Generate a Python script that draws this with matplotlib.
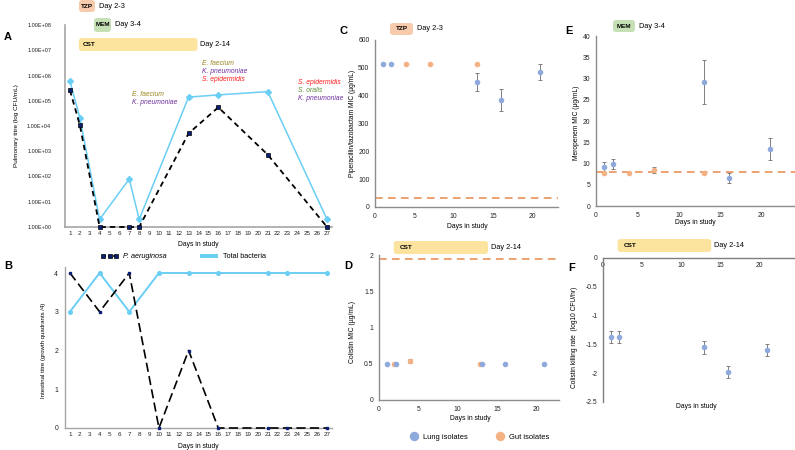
import matplotlib
matplotlib.use("Agg")
import matplotlib.pyplot as plt
import matplotlib.transforms as mtrans
from matplotlib.patches import FancyBboxPatch, Patch
from matplotlib.lines import Line2D
from matplotlib.ticker import FixedLocator, FuncFormatter, NullLocator
import numpy as np

plt.rcParams['font.family'] = ['Liberation Sans', 'DejaVu Sans']

# ---------------- data ----------------
study_days = list(range(1, 28))

# Panel A: pulmonary titre (CFU/mL)
pulm_pa_days = [1, 2, 4, 7, 8, 13, 16, 21, 27]
pulm_pa_titre = [2.6e5, 1.1e4, 1, 1, 1, 5.1e3, 5.5e4, 7.3e2, 1]
pulm_tot_days = [1, 2, 4, 7, 8, 13, 16, 21, 27]
pulm_tot_titre = [6.0e5, 2.1e4, 2, 80, 2, 1.4e5, 1.7e5, 2.3e5, 2]
pulm_yticks = [1e0, 1e1, 1e2, 1e3, 1e4, 1e5, 1e6, 1e7, 1e8]

# Panel B: intestinal titre (growth quadrants /4)
gut_pa_days = [1, 4, 7, 10, 13, 16, 21, 23, 27]
gut_pa_quad = [4, 3, 4, 0, 2, 0, 0, 0, 0]
gut_tot_days = [1, 4, 7, 10, 13, 16, 21, 23, 27]
gut_tot_quad = [3, 4, 3, 4, 4, 4, 4, 4, 4]
gut_yticks = [0, 1, 2, 3, 4]

# Species annotations (panel A)
species_g1 = ["E. faecium", "K. pneumoniae"]
species_g2 = ["E. faecium", "K. pneumoniae", "S. epidermidis"]
species_g3 = ["S. epidermidis", "S. oralis", "K. pneumoniae"]

# Panel C: piperacillin/tazobactam MIC
tzp_lung_days = [1, 2, 13, 16, 21]
tzp_lung_mic = [512, 512, 448, 384, 485]
tzp_lung_err = [0, 0, 33, 39, 28]
tzp_gut_days = [4, 7, 13]
tzp_gut_mic = [512, 512, 512]
tzp_breakpoint = 32
tzp_yticks = [0, 100, 200, 300, 400, 500, 600]

# Panel D: colistin MIC
cst_lung_days = [1, 2.1, 13.1, 16, 21]
cst_lung_mic = [0.5, 0.5, 0.5, 0.5, 0.5]
cst_gut_days = [1.9, 4, 12.9]
cst_gut_mic = [0.5, 0.54, 0.5]
cst_gut_err = [0, 0.03, 0]
cst_breakpoint = 1.95
cst_yticks = [0, 0.5, 1, 1.5, 2]

# Panel E: meropenem MIC
mem_lung_days = [1, 2, 13, 16, 21]
mem_lung_mic = [9.2, 9.9, 29.2, 6.6, 13.4]
mem_lung_err = [1.1, 1.1, 5.2, 1.2, 2.5]
mem_gut_days = [1, 4, 7, 13]
mem_gut_mic = [7.8, 7.8, 8.5, 7.8]
mem_gut_err = [0, 0, 0.7, 0]
mem_breakpoint = 8
mem_yticks = [0, 5, 10, 15, 20, 25, 30, 35, 40]

# Panel F: colistin killing rate
kill_days = [1, 2, 13, 16, 21]
kill_rate = [-1.37, -1.37, -1.55, -1.98, -1.60]
kill_err = [0.10, 0.11, 0.11, 0.11, 0.10]
kill_yticks = [-2.5, -2, -1.5, -1, -0.5, 0]

mic_xticks = [0, 5, 10, 15, 20]
cst_window = (2, 14)

# ---------------- style ----------------
W, H, DPI = 795, 450, 100
LUNG = '#8EA9DB'
GUT = '#F4B183'
LBLUE = '#6ACEF5'
NAVY = '#0B1F75'
OLIVE = '#9A8520'
PURPLE = '#7030A0'
RED = '#FF1A1A'
GREEN = '#5E8F3A'
SPINE_A = '#A6A6A6'
SPINE_C = '#8C8C8C'
TZP_C = '#F8CBAD'
MEM_C = '#C5E0B4'
CST_C = '#FCE49E'
ERR_C = '#7F7F7F'

fig = plt.figure(figsize=(W / DPI, H / DPI), dpi=DPI)


def add_ax(left, top, right, bottom):
    return fig.add_axes([left / W, 1 - bottom / H, (right - left) / W, (bottom - top) / H])


def px_text(x, y, s, **kw):
    fig.text(x / W, 1 - y / H, s, **kw)


def px_box(x0, y0, x1, y1, fc, r=3):
    p = FancyBboxPatch((x0, H - y1), x1 - x0, y1 - y0,
                       boxstyle=f"round,pad=0,rounding_size={r}",
                       fc=fc, ec='none', transform=mtrans.IdentityTransform())
    fig.add_artist(p)


def style_mic(ax, color=SPINE_C):
    for s in ['top', 'right']:
        ax.spines[s].set_visible(False)
    for s in ['left', 'bottom']:
        ax.spines[s].set_color(color)
        ax.spines[s].set_linewidth(1.0)
    ax.tick_params(length=0, labelsize=4.9, colors='#222222', pad=4)
    ax.set_facecolor('none')


def cst_bar(ax, y0, y1, label_dx=5):
    x0 = ax.transData.transform((cst_window[0], 0))[0]
    x1 = ax.transData.transform((cst_window[1], 0))[0]
    px_box(x0 - 1, y0, x1 - 1, y1, CST_C, r=3)
    px_text(x0 + label_dx - 1, (y0 + y1) / 2, 'CST', fontsize=4.6, fontweight='bold',
            ha='left', va='center')
    px_text(x1 + 2, (y0 + y1) / 2, 'Day 2-14', fontsize=5.3, ha='left', va='center')


def label_box(x0, y0, x1, y1, fc, name, day_text):
    px_box(x0, y0, x1, y1, fc, r=3)
    px_text((x0 + x1) / 2, (y0 + y1) / 2, name, fontsize=4.6, fontweight='bold',
            ha='center', va='center')
    px_text(x1 + 4, (y0 + y1) / 2, day_text, fontsize=5.3, ha='left', va='center')


# ---------------- Panel A ----------------
axA = add_ax(65, 25, 332, 227)
axA.set_yscale('log')
axA.set_ylim(1, 1e8)
axA.set_xlim(0.5, 27.5)
axA.plot(pulm_tot_days, pulm_tot_titre, color=LBLUE, lw=1.1, marker='D', ms=3.0,
         mfc=LBLUE, mec=LBLUE, clip_on=False, zorder=3)
axA.plot(pulm_pa_days, pulm_pa_titre, color='black', lw=1.3, ls=(0, (3, 2.2)), marker='s',
         ms=3.2, mfc=NAVY, mec='black', mew=0.5, clip_on=False, zorder=4)
axA.yaxis.set_major_locator(FixedLocator(pulm_yticks))
axA.yaxis.set_minor_locator(NullLocator())
axA.yaxis.set_major_formatter(FuncFormatter(lambda v, p: f"{v:.2E}"))
axA.xaxis.set_major_locator(FixedLocator(study_days))
for s in ['top', 'right']:
    axA.spines[s].set_visible(False)
for s in ['left', 'bottom']:
    axA.spines[s].set_color(SPINE_A)
    axA.spines[s].set_linewidth(1.2)
axA.tick_params(axis='y', length=0, labelsize=4.0, pad=10, colors='#222222')
axA.tick_params(axis='x', length=0, labelsize=4.5, pad=3, colors='#222222')
axA.set_facecolor('none')

px_text(8, 37, 'A', fontsize=8, fontweight='bold', ha='center', va='center')
px_text(17, 126, 'Pulmonary titre (log CFU/mL)', fontsize=4.6, rotation=90,
        ha='center', va='center')
px_text(198, 244, 'Days in study', fontsize=4.9, ha='center', va='center')

label_box(79, 0, 95, 12, TZP_C, 'TZP', 'Day 2-3')
label_box(94, 18, 111, 32, MEM_C, 'MEM', 'Day 3-4')
cst_bar(axA, 38, 51, label_dx=4)

sp_colors = {"E. faecium": OLIVE, "K. pneumoniae": PURPLE,
             "S. epidermidis": RED, "S. oralis": GREEN}
for group, (gx, gy) in zip([species_g1, species_g2, species_g3],
                           [(132, 94), (202, 63.5), (298, 82)]):
    for i, name in enumerate(group):
        px_text(gx, gy + i * 8.2, name, fontsize=4.9, style='italic',
                color=sp_colors[name], ha='left', va='center')

# legend between A and B
hPA = Line2D([], [], color='black', lw=1.3, ls=(0, (1.6, 1.2)), marker='s', ms=3.2,
             mfc=NAVY, mec='black', mew=0.5)
hTot = Patch(fc=LBLUE, ec='none')
leg = fig.legend([hPA, hTot], ['P. aeruginosa', 'Total bacteria'], loc='center left',
                 bbox_to_anchor=(101 / W, 1 - 257 / H), ncol=2, frameon=False,
                 fontsize=5.2, handlelength=2.4, handletextpad=0.7, columnspacing=4.6,
                 numpoints=3, borderpad=0, borderaxespad=0, handleheight=0.6)
leg.get_texts()[0].set_fontstyle('italic')

# ---------------- Panel B ----------------
axB = add_ax(65, 428 - 4.15 * 38.75, 332, 428)
axB.set_ylim(0, 4.15)
axB.set_xlim(0.5, 27.5)
axB.plot(gut_tot_days, gut_tot_quad, color=LBLUE, lw=1.4, marker='o', ms=2.6,
         mfc=LBLUE, mec=LBLUE, clip_on=False, zorder=3)
axB.plot(gut_pa_days, gut_pa_quad, color='black', lw=1.2, ls=(0, (5.5, 2.6)), marker='s',
         ms=1.8, mfc=NAVY, mec=NAVY, clip_on=False, zorder=4)
axB.yaxis.set_major_locator(FixedLocator(gut_yticks))
axB.xaxis.set_major_locator(FixedLocator(study_days))
for s in ['top', 'right']:
    axB.spines[s].set_visible(False)
for s in ['left', 'bottom']:
    axB.spines[s].set_color(SPINE_A)
    axB.spines[s].set_linewidth(1.0)
axB.tick_params(axis='y', length=0, labelsize=4.9, pad=5, colors='#222222')
axB.tick_params(axis='x', length=0, labelsize=4.5, pad=3, colors='#222222')
axB.set_facecolor('none')
px_text(8, 266, 'B', fontsize=8, fontweight='bold', ha='center', va='center')
px_text(44, 350, 'Intestinal titre (growth quadrants /4)', fontsize=4.3, rotation=90,
        ha='center', va='center')
px_text(198, 446, 'Days in study', fontsize=4.9, ha='center', va='center')


def mic_points(ax, days, vals, errs, color):
    days = np.asarray(days, float)
    vals = np.asarray(vals, float)
    errs = np.asarray(errs, float)
    m = errs > 0
    if m.any():
        ax.errorbar(days[m], vals[m], yerr=errs[m], fmt='none', ecolor=ERR_C,
                    elinewidth=0.7, capsize=1.6, capthick=0.7, zorder=3, clip_on=False)
    ax.plot(days, vals, ls='none', marker='o', ms=4.0, mfc=color, mec='none',
            zorder=4, clip_on=False)


# ---------------- Panel C ----------------
axC = add_ax(375, 40, 558, 207)
axC.set_xlim(0, 23.3)
axC.set_ylim(0, 600)
style_mic(axC)
axC.axhline(tzp_breakpoint, color='#E8894A', lw=1.1, ls=(0, (5, 3.5)), zorder=2)
mic_points(axC, tzp_gut_days, tzp_gut_mic, [0] * len(tzp_gut_days), GUT)
mic_points(axC, tzp_lung_days, tzp_lung_mic, tzp_lung_err, LUNG)
axC.yaxis.set_major_locator(FixedLocator(tzp_yticks))
axC.xaxis.set_major_locator(FixedLocator(mic_xticks))
px_text(344, 31, 'C', fontsize=8, fontweight='bold', ha='center', va='center')
label_box(390, 23, 413, 35, TZP_C, 'TZP', 'Day 2-3')
px_text(352, 123, 'Piperacillin/tazobactam MIC (µg/mL)', fontsize=4.8, rotation=90,
        ha='center', va='center')
px_text(467, 226, 'Days in study', fontsize=4.9, ha='center', va='center')

# ---------------- Panel D ----------------
axD = add_ax(379, 255, 559, 400)
axD.set_xlim(0, 22.9)
axD.set_ylim(0, 2)
style_mic(axD)
axD.axhline(cst_breakpoint, color='#E8894A', lw=1.1, ls=(0, (5, 3.5)), zorder=2,
            clip_on=False)
mic_points(axD, cst_gut_days, cst_gut_mic, cst_gut_err, GUT)
mic_points(axD, cst_lung_days, cst_lung_mic, [0] * len(cst_lung_days), LUNG)
axD.yaxis.set_major_locator(FixedLocator(cst_yticks))
axD.yaxis.set_major_formatter(FuncFormatter(lambda v, p: f"{v:g}"))
axD.xaxis.set_major_locator(FixedLocator(mic_xticks))
px_text(348, 266, 'D', fontsize=8, fontweight='bold', ha='center', va='center')
cst_bar(axD, 241, 254, label_dx=6)
px_text(353, 332, 'Colistin MIC (µg/mL)', fontsize=4.9, rotation=90,
        ha='center', va='center')
px_text(470, 418, 'Days in study', fontsize=4.9, ha='center', va='center')

hL = Line2D([], [], ls='none', marker='o', ms=6.8, mfc=LUNG, mec='none')
hG = Line2D([], [], ls='none', marker='o', ms=6.8, mfc=GUT, mec='none')
fig.legend([hL, hG], ['Lung isolates', 'Gut isolates'], loc='center left',
           bbox_to_anchor=(409 / W, 1 - 437 / H), ncol=2, frameon=False, fontsize=5.4,
           handlelength=1.2, handletextpad=0.7, columnspacing=3.6, borderpad=0,
           borderaxespad=0)

# ---------------- Panel E ----------------
axE = add_ax(596, 36, 795, 206)
axE.set_xlim(0, 24)
axE.set_ylim(0, 40)
style_mic(axE)
axE.axhline(mem_breakpoint, color='#E8894A', lw=1.1, ls=(0, (5, 3.5)), zorder=2)
mic_points(axE, mem_gut_days, mem_gut_mic, mem_gut_err, GUT)
mic_points(axE, mem_lung_days, mem_lung_mic, mem_lung_err, LUNG)
axE.yaxis.set_major_locator(FixedLocator(mem_yticks))
axE.xaxis.set_major_locator(FixedLocator(mic_xticks))
px_text(569, 31, 'E', fontsize=8, fontweight='bold', ha='center', va='center')
label_box(613, 20, 635, 32, MEM_C, 'MEM', 'Day 3-4')
px_text(577, 123, 'Meropenem MIC (µg/mL)', fontsize=4.8, rotation=90,
        ha='center', va='center')
px_text(695, 223, 'Days in study', fontsize=4.9, ha='center', va='center')

# ---------------- Panel F ----------------
axF = add_ax(603, 258, 795, 402)
axF.set_xlim(0, 24.6)
axF.set_ylim(-2.5, 0)
style_mic(axF, color='#7F7F7F')
axF.spines['bottom'].set_position(('data', 0))
mic_points(axF, kill_days, kill_rate, kill_err, LUNG)
axF.yaxis.set_major_locator(FixedLocator(kill_yticks))
axF.yaxis.set_major_formatter(FuncFormatter(lambda v, p: f"{v:g}"))
axF.xaxis.set_major_locator(FixedLocator(mic_xticks))
axF.tick_params(axis='x', pad=3)
px_text(572, 268, 'F', fontsize=8, fontweight='bold', ha='center', va='center')
cst_bar(axF, 239, 252, label_dx=6)
px_text(574, 337, 'Colistin killing rate  (log10 CFU/hr)', fontsize=4.8, rotation=90,
        ha='center', va='center')
px_text(696, 407, 'Days in study', fontsize=4.9, ha='center', va='center')

fig.savefig('out.png', dpi=DPI)
